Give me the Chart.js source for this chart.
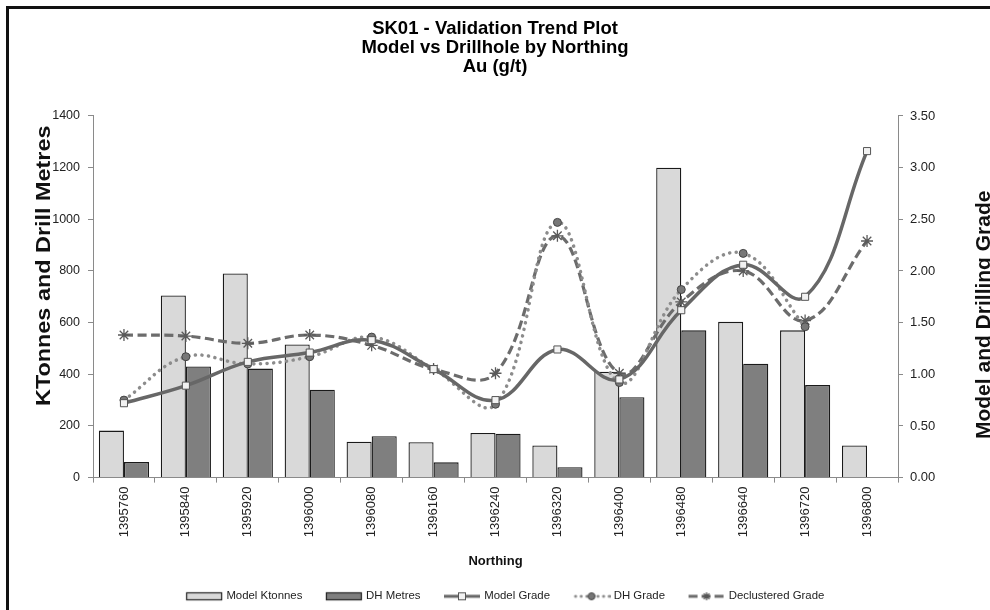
<!DOCTYPE html>
<html>
<head>
<meta charset="utf-8">
<script src="https://cdn.jsdelivr.net/npm/chart.js@4.4.1/dist/chart.umd.min.js"></script>
<style>
  html, body { margin: 0; padding: 0; background: #fff; overflow: hidden; }
  #frame { position: absolute; left: 6px; top: 6px; width: 1100px; height: 700px;
           border-left: 3px solid #111; border-top: 3px solid #111; }
  #wrap { position: absolute; left: 0; top: 0; width: 990px; height: 612px; }
</style>
</head>
<body>
<div id="frame"></div>
<div id="wrap"><canvas id="chart" width="990" height="612"></canvas></div>
<script>
// Northing slices and their tonnage / drilling / grade figures
const northing = ['1395760', '1395840', '1395920', '1396000', '1396080', '1396160', '1396240',
                  '1396320', '1396400', '1396480', '1396640', '1396720', '1396800'];
const modelKtonnes = [182, 705, 790, 515, 139, 137, 173, 124, 410, 1200, 603, 570, 124];
const dhMetres     = [60, 430, 422, 340, 160, 59, 170, 40, 311, 570, 441, 358, null];
const modelGrade   = [0.72, 0.89, 1.12, 1.21, 1.33, 1.05, 0.75, 1.24, 0.95, 1.62, 2.06, 1.75, 3.16];
const dhGrade      = [0.75, 1.17, 1.10, 1.17, 1.36, 1.05, 0.71, 2.47, 0.92, 1.82, 2.17, 1.46, null];
const declusteredGrade = [1.38, 1.37, 1.30, 1.38, 1.28, 1.05, 1.01, 2.34, 1.01, 1.70, 2.00, 1.52, 2.29];

const tonnesTicks = [0, 200, 400, 600, 800, 1000, 1200, 1400];
const gradeTicks  = [0, 0.5, 1.0, 1.5, 2.0, 2.5, 3.0, 3.5];

const FONT = "'Liberation Sans', Arial, sans-serif";
const LINE_MODEL = '#676767';
const LINE_DH = '#8c8c8c';
const LINE_DECL = '#6c6c6c';

// Small legend swatches: bar blocks and line+marker samples
function swatch(draw) {
  const c = document.createElement('canvas');
  c.width = 38; c.height = 12;
  const g = c.getContext('2d');
  draw(g);
  return c;
}
const swBarLight = swatch(g => {
  g.fillStyle = '#d9d9d9'; g.fillRect(1.5, 2.5, 35, 7);
  g.strokeStyle = '#222'; g.lineWidth = 1.2; g.strokeRect(1.5, 2.5, 35, 7);
});
const swBarDark = swatch(g => {
  g.fillStyle = '#7f7f7f'; g.fillRect(1.5, 2.5, 35, 7);
  g.strokeStyle = '#222'; g.lineWidth = 1.2; g.strokeRect(1.5, 2.5, 35, 7);
});
const swModel = swatch(g => {
  g.strokeStyle = LINE_MODEL; g.lineWidth = 3; g.beginPath(); g.moveTo(1, 6); g.lineTo(37, 6); g.stroke();
  g.fillStyle = '#f2f2f2'; g.fillRect(15.5, 2.5, 7, 7);
  g.strokeStyle = '#555'; g.lineWidth = 1; g.strokeRect(15.5, 2.5, 7, 7);
});
const swDH = swatch(g => {
  g.strokeStyle = LINE_DH; g.lineWidth = 3; g.lineCap = 'round'; g.setLineDash([0.1, 5.5]);
  g.beginPath(); g.moveTo(3, 6); g.lineTo(37, 6); g.stroke();
  g.setLineDash([]);
  g.fillStyle = '#777'; g.strokeStyle = '#444'; g.lineWidth = 1;
  g.beginPath(); g.arc(19, 6, 3.5, 0, Math.PI * 2); g.fill(); g.stroke();
});
const swDecl = swatch(g => {
  g.strokeStyle = LINE_DECL; g.lineWidth = 3; g.setLineDash([9, 4]);
  g.beginPath(); g.moveTo(1, 6); g.lineTo(37, 6); g.stroke();
  g.setLineDash([]); g.lineWidth = 1.3; g.strokeStyle = '#555';
  g.beginPath();
  for (let k = 0; k < 4; k++) {
    const a = k * Math.PI / 4;
    g.moveTo(19 - 4 * Math.cos(a), 6 - 4 * Math.sin(a));
    g.lineTo(19 + 4 * Math.cos(a), 6 + 4 * Math.sin(a));
  }
  g.stroke();
});

// Rotated axis titles and the category axis title
const axisTitles = {
  id: 'axisTitles',
  afterLayout(chart) {
    // nudge the legend row a little to the right of centre
    if (chart.legend) chart.legend.left += 22;
  },
  afterDraw(chart) {
    const { ctx, chartArea: a } = chart;
    const midY = (a.top + a.bottom) / 2;
    ctx.save();
    ctx.fillStyle = '#111';
    ctx.textAlign = 'center';
    ctx.textBaseline = 'middle';
    ctx.font = 'bold 19.5px ' + FONT;
    ctx.save();
    ctx.translate(a.left - 48, midY - 31);
    ctx.rotate(-Math.PI / 2);
    ctx.scale(1.2, 1);
    ctx.fillText('KTonnes and Drill Metres', 0, 0);
    ctx.restore();
    ctx.font = 'bold 21px ' + FONT;
    ctx.save();
    ctx.translate(a.right + 86, midY + 18);
    ctx.rotate(-Math.PI / 2);
    ctx.fillText('Model and Drilling Grade', 0, 0);
    ctx.restore();
    ctx.font = 'bold 13px ' + FONT;
    ctx.fillText('Northing', (a.left + a.right) / 2, a.bottom + 84);
    ctx.restore();
  }
};

new Chart(document.getElementById('chart'), {
  data: {
    labels: northing,
    datasets: [
      { type: 'bar', label: 'Model Ktonnes', data: modelKtonnes, yAxisID: 'y', order: 3,
        backgroundColor: '#d9d9d9', borderColor: '#1a1a1a', borderWidth: 1.3,
        categoryPercentage: 0.81, barPercentage: 1.0 },
      { type: 'bar', label: 'DH Metres', data: dhMetres, yAxisID: 'y', order: 4,
        backgroundColor: '#7f7f7f', borderColor: '#1a1a1a', borderWidth: 1.3,
        categoryPercentage: 0.81, barPercentage: 1.0 },
      { type: 'line', label: 'Model Grade', data: modelGrade, yAxisID: 'y1', order: 0,
        borderColor: LINE_MODEL, borderWidth: 3.5, tension: 0.4, fill: false,
        pointStyle: 'rect', pointRadius: 5, pointBackgroundColor: '#f2f2f2',
        pointBorderColor: '#555', pointBorderWidth: 1 },
      { type: 'line', label: 'DH Grade', data: dhGrade, yAxisID: 'y1', order: 1,
        borderColor: LINE_DH, borderWidth: 3.5, borderDash: [0.1, 6.5], borderCapStyle: 'round',
        tension: 0.4, fill: false,
        pointStyle: 'circle', pointRadius: 4, pointBackgroundColor: '#777',
        pointBorderColor: '#444', pointBorderWidth: 1 },
      { type: 'line', label: 'Declustered Grade', data: declusteredGrade, yAxisID: 'y1', order: 2,
        borderColor: LINE_DECL, borderWidth: 3.2, borderDash: [9, 4.5],
        tension: 0.4, fill: false,
        pointStyle: 'star', pointRadius: 6, pointBorderColor: '#5a5a5a', pointBorderWidth: 1.3 }
    ]
  },
  options: {
    responsive: false,
    animation: false,
    layout: { padding: { left: 0, right: 0, top: 0, bottom: 0 } },
    plugins: {
      title: {
        display: true,
        text: ['SK01 - Validation Trend Plot', 'Model vs Drillhole by Northing', 'Au (g/t)'],
        color: '#000',
        font: { family: FONT, size: 18.5, weight: 'bold', lineHeight: 1.03 },
        padding: { top: 19, bottom: 39.8 }
      },
      legend: {
        position: 'bottom',
        labels: {
          font: { family: FONT, size: 11.4 },
          color: '#222',
          usePointStyle: true,
          pointStyleWidth: 33,
          boxHeight: 11,
          padding: 25,
          generateLabels() {
            const names = ['Model Ktonnes', 'DH Metres', 'Model Grade', 'DH Grade', 'Declustered Grade'];
            const marks = [swBarLight, swBarDark, swModel, swDH, swDecl];
            return names.map((n, i) => ({
              text: n, pointStyle: marks[i], datasetIndex: i, hidden: false,
              fillStyle: 'rgba(0,0,0,0)', strokeStyle: 'rgba(0,0,0,0)', lineWidth: 0, fontColor: '#222'
            }));
          }
        }
      },
      tooltip: { enabled: false }
    },
    scales: {
      x: {
        offset: true,
        grid: { display: true, drawOnChartArea: false, drawTicks: true, tickLength: 5, color: '#8a8a8a', offset: true },
        border: { display: true, color: '#8a8a8a', width: 1 },
        ticks: { color: '#222', font: { family: FONT, size: 13 }, minRotation: 90, maxRotation: 90, padding: 4, autoSkip: false },
        afterFit(s) { s.height = 88; }
      },
      y: {
        position: 'left',
        min: 0, max: 1400,
        grid: { display: true, drawOnChartArea: false, drawTicks: true, tickLength: 5, color: '#8a8a8a' },
        border: { display: true, color: '#8a8a8a', width: 1 },
        ticks: { color: '#222', font: { family: FONT, size: 12.5 }, padding: 8,
                 callback: v => String(v) },
        afterBuildTicks(s) { s.ticks = tonnesTicks.map(v => ({ value: v })); },
        afterFit(s) { s.width = 93; }
      },
      y1: {
        position: 'right',
        min: 0, max: 3.5,
        grid: { display: true, drawOnChartArea: false, drawTicks: true, tickLength: 5, color: '#8a8a8a' },
        border: { display: true, color: '#8a8a8a', width: 1 },
        ticks: { color: '#222', font: { family: FONT, size: 13 }, padding: 7,
                 callback: v => Number(v).toFixed(2) },
        afterBuildTicks(s) { s.ticks = gradeTicks.map(v => ({ value: v })); },
        afterFit(s) { s.width = 92; }
      }
    }
  },
  plugins: [axisTitles]
});
</script>
</body>
</html>
